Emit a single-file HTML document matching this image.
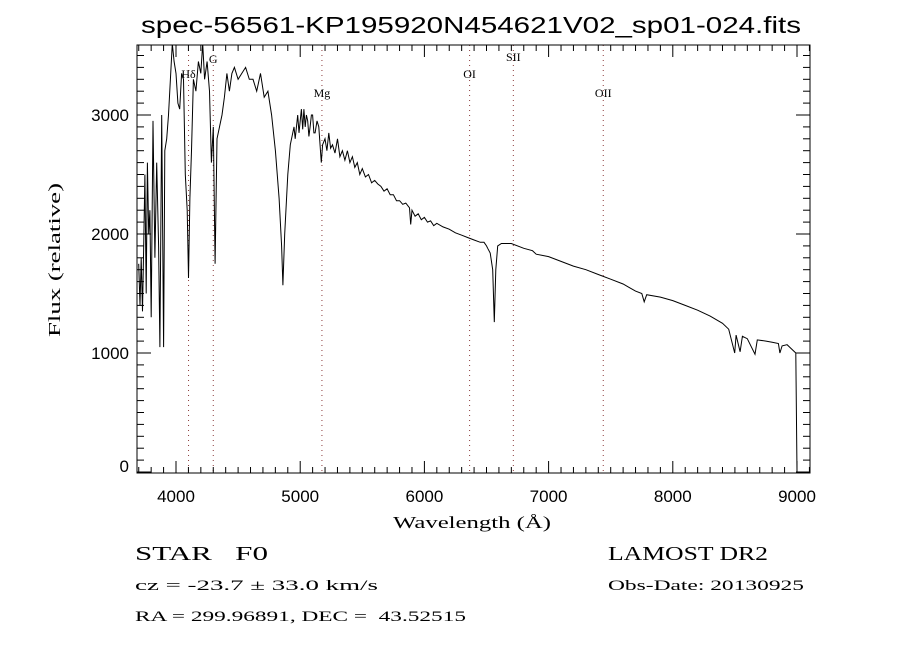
<!DOCTYPE html>
<html><head><meta charset="utf-8"><style>
body{margin:0;background:#fff;width:900px;height:650px;overflow:hidden}
svg{font-family:"Liberation Sans",sans-serif}
</style></head><body>
<svg id="c" width="900" height="650">
<text x="141" y="33" font-size="23" textLength="660" lengthAdjust="spacingAndGlyphs">spec-56561-KP195920N454621V02_sp01-024.fits</text>
<g id="lines"></g>
<g id="axes"></g>
<defs><clipPath id="clip"><rect x="137" y="45" width="673" height="428"/></clipPath></defs>
<path id="spec" clip-path="url(#clip)" fill="none" stroke="#000" stroke-width="1"/>
<rect x="137" y="45" width="673" height="428" fill="none" stroke="#000" stroke-width="1"/>
<text x="393" y="528" font-size="17" textLength="158" lengthAdjust="spacingAndGlyphs" font-family="Liberation Serif,serif">Wavelength (Å)</text>
<text transform="translate(60,337) rotate(-90)" font-size="17" textLength="154" lengthAdjust="spacingAndGlyphs" font-family="Liberation Serif,serif">Flux (relative)</text>
<text x="135" y="560" font-size="20" textLength="133" lengthAdjust="spacingAndGlyphs" font-family="Liberation Serif,serif" xml:space="preserve">STAR   F0</text>
<text x="135" y="590" font-size="15" textLength="243" lengthAdjust="spacingAndGlyphs" font-family="Liberation Serif,serif">cz = -23.7 ± 33.0 km/s</text>
<text x="135" y="621" font-size="15" textLength="331" lengthAdjust="spacingAndGlyphs" font-family="Liberation Serif,serif" xml:space="preserve">RA = 299.96891, DEC =  43.52515</text>
<text x="608" y="560" font-size="20" textLength="160" lengthAdjust="spacingAndGlyphs" font-family="Liberation Serif,serif">LAMOST DR2</text>
<text x="608" y="590" font-size="15" textLength="196" lengthAdjust="spacingAndGlyphs" font-family="Liberation Serif,serif">Obs-Date: 20130925</text>
</svg>
<script>
const waves=[3700,3710,3720,3730,3740,3750,3760,3770,3780,3790,3800,3815,3830,3845,3860,3870,3885,3900,3910,3925,3940,3955,3970,3985,4000,4015,4030,4045,4060,4075,4090,4101,4112,4125,4140,4160,4180,4200,4215,4230,4250,4270,4285,4300,4315,4330,4350,4370,4390,4410,4430,4450,4470,4500,4530,4560,4590,4620,4650,4680,4710,4740,4770,4800,4830,4850,4861,4875,4900,4920,4950,4960,4980,4990,5000,5010,5020,5030,5040,5050,5060,5070,5080,5090,5100,5110,5120,5135,5150,5170,5180,5200,5215,5230,5245,5260,5280,5300,5320,5340,5360,5380,5400,5420,5440,5460,5480,5500,5525,5550,5575,5600,5625,5650,5675,5700,5725,5750,5775,5800,5825,5850,5880,5890,5900,5925,5950,5975,6000,6025,6050,6075,6100,6150,6200,6250,6300,6350,6400,6450,6480,6500,6510,6530,6550,6563,6575,6590,6620,6700,6800,6870,6900,7000,7100,7200,7300,7400,7500,7600,7650,7700,7750,7770,7790,7900,8000,8100,8200,8300,8400,8450,8498,8510,8542,8560,8600,8662,8680,8750,8800,8850,8862,8880,8920,8950,8990,9000];
const fluxes=[1750,1400,1800,1350,1900,2500,1500,2600,2000,2200,1300,2950,1800,2600,1900,1050,3000,1050,2700,2800,3000,3300,3600,3450,3350,3100,3050,3350,3300,2500,2200,1630,2300,2700,3300,3200,3450,3350,3600,3300,3450,3200,2600,2900,1750,2800,2900,3000,3150,3350,3200,3350,3400,3300,3350,3400,3300,3300,3200,3350,3150,3200,3000,2700,2300,1900,1570,2000,2500,2750,2900,2800,3000,2850,2950,3050,2880,3050,2900,3000,2950,2820,2900,3000,3000,2850,2850,2950,2900,2600,2750,2800,2700,2850,2720,2750,2680,2800,2650,2700,2620,2700,2600,2650,2560,2600,2500,2550,2480,2500,2430,2450,2420,2400,2360,2380,2330,2330,2280,2280,2250,2260,2220,2080,2200,2150,2170,2120,2140,2100,2110,2070,2090,2060,2040,2010,1990,1970,1950,1930,1930,1900,1880,1840,1700,1260,1700,1900,1920,1920,1880,1860,1830,1810,1770,1730,1700,1660,1620,1580,1550,1520,1500,1430,1490,1470,1440,1400,1360,1310,1250,1200,1000,1150,1010,1140,1120,990,1110,1100,1090,1080,1000,1060,1070,1040,1000,0];
const xTicks=[4000,5000,6000,7000,8000,9000];
const yTicks=[0,1000,2000,3000];
const lineWaves=[4101,4300,5175,6364,6716,7440];
const lineNames=["Hδ","G","Mg","OI","SII","OII"];
const lineLabelY=[78,63,97,78,61,97];
const X=w=>176+(w-4000)*0.1242;
const Y=f=>472-f*0.119;
const NS="http://www.w3.org/2000/svg";
const axes=document.getElementById('axes'),lg=document.getElementById('lines');
function mk(tag,attrs,parent){const e=document.createElementNS(NS,tag);for(const k in attrs)e.setAttribute(k,attrs[k]);parent.appendChild(e);return e;}
let d='';waves.forEach((w,i)=>{d+=(i?'L':'M')+X(w).toFixed(1)+','+Y(fluxes[i]).toFixed(1);});
document.getElementById('spec').setAttribute('d',d);
for(let w=3700;w<=9100;w+=100){const x=X(w);const maj=w%1000===0;const len=maj?12:6;
 const t=mk('line',{x1:x,x2:x,y1:473,y2:473-len,stroke:'#000'},axes);
 
 
 const t2=mk('line',{x1:x,x2:x,y1:45,y2:45+len,stroke:'#000'},axes);
 
 }
for(let f=0;f<=3500;f+=100){const y=Y(f);const maj=f%1000===0;const len=maj?14:7;
 const t=mk('line',{x1:137,x2:137+len,y1:y,y2:y,stroke:'#000'},axes);
 
 
 const t2=mk('line',{x1:810,x2:810-len,y1:y,y2:y,stroke:'#000'},axes);
 
 }
xTicks.forEach(w=>{const t=mk('text',{x:X(w),y:502,'font-size':17,'text-anchor':'middle'},axes);t.textContent=w;
 
 });
yTicks.forEach(f=>{const t=mk('text',{x:129,y:Math.min(Y(f)+6,472),'font-size':17,'text-anchor':'end'},axes);t.textContent=f;
 
 });
lineWaves.forEach((w,i)=>{const x=X(w);
 const l=mk('line',{x1:x,x2:x,y1:45,y2:473,stroke:'#8b3a3a','stroke-dasharray':'1,4'},lg);
 
 
 const t=mk('text',{x:x,y:lineLabelY[i],'font-size':12,'text-anchor':'middle','font-family':'Liberation Serif,serif'},lg);t.textContent=lineNames[i];
 
 });
</script>
</body></html>
